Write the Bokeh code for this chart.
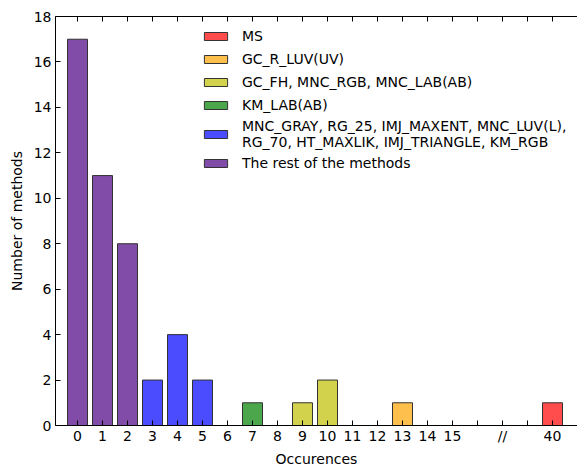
from bokeh.plotting import figure
from bokeh.models import ColumnDataSource, FixedTicker, LinearAxis, Legend, LegendItem, Range1d
from bokeh.embed import file_html
from bokeh.resources import INLINE

# ---- data ----
occurrence_labels = ["0", "1", "2", "3", "4", "5", "6", "7", "8", "9", "10",
                     "11", "12", "13", "14", "15", "40"]
method_counts = [17, 11, 8, 2, 4, 2, 0, 1, 0, 1, 2, 0, 0, 1, 0, 0, 1]
group_of_bar = ["rest", "rest", "rest", "blue", "blue", "blue", "rest", "green",
                "rest", "yellow", "yellow", "rest", "rest", "orange", "rest", "rest", "red"]
tick_labels = ["0", "1", "2", "3", "4", "5", "6", "7", "8", "9", "10",
               "11", "12", "13", "14", "15", "", "//", "", "40"]

group_keys = ["red", "orange", "yellow", "green", "blue", "rest"]
group_names = ["MS",
               "GC_R_LUV(UV)",
               "GC_FH, MNC_RGB, MNC_LAB(AB)",
               "KM_LAB(AB)",
               "MNC_GRAY, RG_25, IMJ_MAXENT, MNC_LUV(L),\nRG_70, HT_MAXLIK, IMJ_TRIANGLE, KM_RGB",
               "The rest of the methods"]
group_colors = ["#ff4c4c", "#ffbf4c", "#d2d24c", "#4ca64c", "#4c4cff", "#814ca7"]

# axis position of each bar: broken axis, "//" gap before 40
positions = []
for lab in occurrence_labels:
    v = int(lab)
    positions.append(v if v <= 15 else 19)

FONT = "DejaVu Sans"
FS = "14px"

p = figure(width=577, height=470, output_backend="svg", toolbar_location=None,
           x_range=Range1d(-0.88, 20.0), y_range=Range1d(0, 18),
           min_border_left=55, min_border_right=0, min_border_top=16, min_border_bottom=45)
p.outline_line_color = None
p.xgrid.visible = False
p.ygrid.visible = False
p.background_fill_color = "white"
p.border_fill_color = "white"

items = []
for key, name, col in zip(group_keys, group_names, group_colors):
    xs = [x for x, g, c in zip(positions, group_of_bar, method_counts) if g == key and c > 0]
    ys = [c for x, g, c in zip(positions, group_of_bar, method_counts) if g == key and c > 0]
    src = ColumnDataSource(dict(x=xs, top=ys))
    r = p.vbar(x="x", top="top", width=0.8, bottom=0, source=src,
               fill_color=col, line_color="#333333", line_width=1)
    items.append(LegendItem(label=name, renderers=[r]))

ticker = FixedTicker(ticks=list(range(20)))
p.xaxis.ticker = ticker
p.xaxis.major_label_overrides = {i: t for i, t in enumerate(tick_labels)}
p.yaxis.ticker = FixedTicker(ticks=list(range(0, 19, 2)))

for ax in (p.xaxis[0], p.yaxis[0]):
    ax.major_tick_in = 5
    ax.major_tick_out = 0
    ax.minor_tick_in = 0
    ax.minor_tick_out = 0
    ax.axis_line_color = "black"
    ax.major_tick_line_color = "black"
    ax.major_label_text_font = FONT
    ax.major_label_text_font_size = FS
    ax.major_label_text_color = "black"
    ax.axis_label_text_font = FONT
    ax.axis_label_text_font_size = FS
    ax.axis_label_text_font_style = "normal"
    ax.axis_label_text_color = "black"

p.xaxis.axis_label = "Occurences"
p.yaxis.axis_label = "Number of methods"
p.xaxis.major_label_standoff = 2
p.xaxis.axis_label_standoff = 4
p.yaxis.major_label_standoff = 4
p.yaxis.axis_label_standoff = 6

top = LinearAxis(ticker=ticker, major_label_text_font_size="0px", major_label_standoff=0,
                 major_tick_in=5, major_tick_out=0, minor_tick_in=0, minor_tick_out=0,
                 axis_line_color="black", major_tick_line_color="black")
top.major_label_overrides = {i: "" for i in range(20)}
p.add_layout(top, "above")

legend = Legend(items=items, location=(146, 252), orientation="vertical")
legend.border_line_color = None
legend.background_fill_alpha = 0
legend.padding = 0
legend.margin = 0
legend.spacing = 3
legend.glyph_width = 29
legend.glyph_height = 10
legend.label_height = 20
legend.label_standoff = 12
legend.label_text_font = FONT
legend.label_text_font_size = FS
legend.label_text_color = "black"
p.add_layout(legend, "center")

open("out.html", "w").write(file_html(p, INLINE))
